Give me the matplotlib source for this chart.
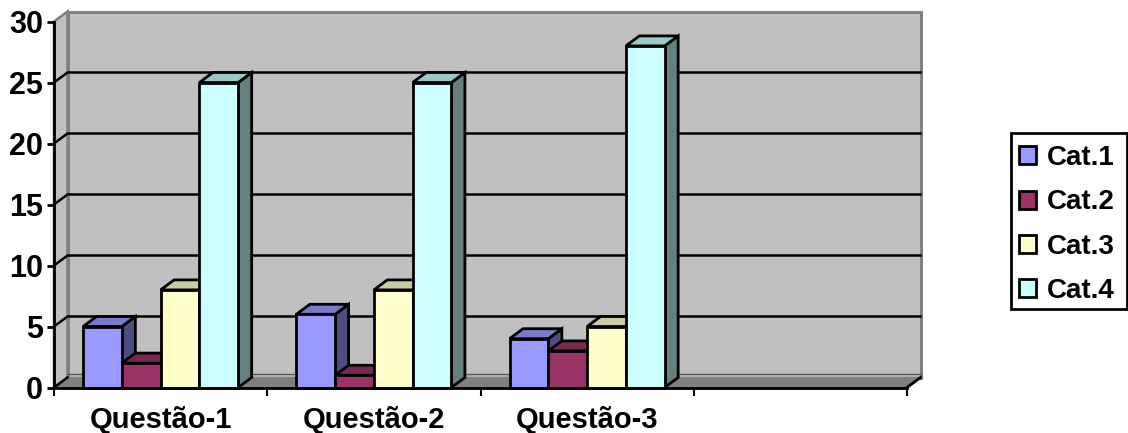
import matplotlib
matplotlib.use("Agg")
import matplotlib.pyplot as plt
from matplotlib.patches import Rectangle

# Chart data
categories = ["Questão-1", "Questão-2", "Questão-3", ""]
series_names = ["Cat.1", "Cat.2", "Cat.3", "Cat.4"]
cat1 = [5, 6, 4]
cat2 = [2, 1, 3]
cat3 = [8, 8, 5]
cat4 = [25, 25, 28]
all_series = [cat1, cat2, cat3, cat4]

# front, top and side colours of each series
front_colors = ["#9999FF", "#993366", "#FFFFCC", "#CCFFFF"]
top_colors = ["#7A7ACC", "#7A2952", "#CCCCA3", "#99C8C8"]
side_colors = ["#4D4D80", "#4D1A33", "#808066", "#668080"]

WIDTH, HEIGHT = 1128, 433
LEFT, RIGHT, BOTTOM, TOP = 54, 907, 387.5, 21.5
DX = 13.5 / ((RIGHT - LEFT) / 4)  # depth in x data units
DY = 10 / ((BOTTOM - TOP) / 30)  # depth in y data units
BAR = 1 / 5.5
WALL = "#C0C0C0"
EDGE = "#808080"

plt.rcParams["font.family"] = ["Liberation Sans", "DejaVu Sans"]
plt.rcParams["font.weight"] = "bold"

fig = plt.figure(figsize=(WIDTH / 100, HEIGHT / 100), dpi=100)
ax = fig.add_axes([LEFT / WIDTH, 1 - BOTTOM / HEIGHT,
                   (RIGHT - LEFT) / WIDTH, (BOTTOM - TOP) / HEIGHT])
ax.set_xlim(0, 4)
ax.set_ylim(0, 30)
ax.patch.set_visible(False)
ax.spines["top"].set_visible(False)
ax.spines["right"].set_visible(False)
for side in ["left", "bottom"]:
    ax.spines[side].set_linewidth(2)
    ax.spines[side].set_zorder(50)

# left wall, back wall and floor
ax.fill([0, DX, DX, 0], [0, DY, 30 + DY, 30], facecolor=WALL,
        edgecolor=EDGE, lw=1.8, clip_on=False, zorder=1)
ax.fill([DX, 4 + DX, 4 + DX, DX], [DY, DY, 30 + DY, 30 + DY], facecolor=WALL,
        edgecolor=EDGE, lw=2.2, clip_on=False, zorder=1)
ax.fill([0, 4, 4 + DX, DX], [0, 0, DY, DY], facecolor=EDGE,
        edgecolor=EDGE, lw=1, clip_on=False, zorder=2)
ax.plot([DX, 4 + DX], [DY + 0.3, DY + 0.3], color="#555555", lw=1,
        clip_on=False, zorder=3)
ax.plot([4, 4 + DX], [0, DY], color="black", lw=2, clip_on=False, zorder=3)

# gridlines run along the back wall and down the left wall
for v in range(5, 30, 5):
    ax.plot([0, DX, 4 + DX], [v, v + DY, v + DY], color="black", lw=1.8,
            clip_on=False, zorder=3)
ax.plot([0, DX], [0, DY], color="black", lw=1.8, clip_on=False, zorder=3)

# bars, left to right so the next front covers the previous side
z = 10
for c in range(3):
    for s, values in enumerate(all_series):
        v = values[c]
        x0 = c + 0.75 * BAR + s * BAR
        x1 = x0 + BAR
        ax.bar(x0, v, BAR, align="edge", color=front_colors[s],
               edgecolor="black", lw=2, zorder=z + 2, clip_on=False)
        ax.fill([x0, x1, x1 + DX, x0 + DX], [v, v, v + DY, v + DY],
                facecolor=top_colors[s], edgecolor="black", lw=2,
                zorder=z + 1, clip_on=False)
        ax.fill([x1, x1 + DX, x1 + DX, x1], [0, DY, v + DY, v],
                facecolor=side_colors[s], edgecolor="black", lw=2,
                zorder=z, clip_on=False)
        z += 3

# axis ticks and labels
ax.set_yticks(range(0, 31, 5))
ax.set_xticks(range(5))
ax.set_xticklabels([])
ax.set_xticks([0.5, 1.5, 2.5, 3.5], categories, minor=True)
ax.tick_params(axis="y", length=5, width=2, pad=3, labelsize=22)
ax.tick_params(axis="x", which="major", length=5.5, width=1.5)
ax.tick_params(axis="x", which="minor", length=0, pad=13.5, labelsize=21)

# legend box on the right, frame drawn apart so the rows can sit freely in it
fig.add_artist(Rectangle((1011 / WIDTH, 1 - 309 / HEIGHT), 116 / WIDTH,
                         176 / HEIGHT, transform=fig.transFigure,
                         facecolor="white", edgecolor="black", lw=2))
handles = [Rectangle((0, 0), 1, 1, facecolor=col, edgecolor="black", lw=2)
           for col in front_colors]
legend = fig.legend(handles, series_names, loc="upper left",
                    bbox_to_anchor=(1019 / WIDTH, 1 - 145 / HEIGHT),
                    bbox_transform=fig.transFigure, fontsize=20,
                    frameon=False, borderaxespad=0, borderpad=0,
                    labelspacing=0.66, handlelength=0.62, handleheight=0.62,
                    handletextpad=0.37)

fig.savefig("out.png", dpi=100)
